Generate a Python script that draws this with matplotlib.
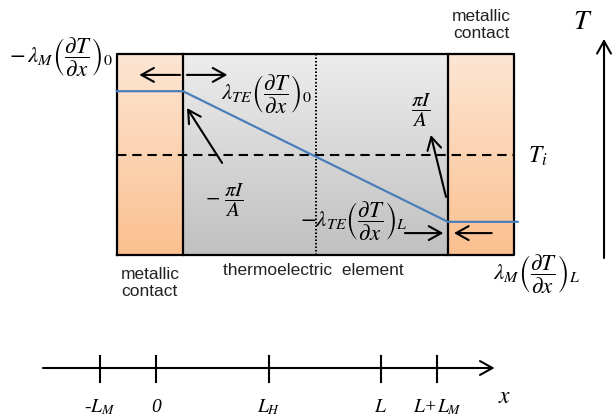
import numpy as np
import matplotlib.pyplot as plt
from matplotlib.colors import LinearSegmentedColormap

plt.rcParams['mathtext.fontset'] = 'stix'
plt.rcParams['font.family'] = ['Liberation Sans', 'DejaVu Sans']

# geometry of the element, in units of L/4
L_M = 1.0
L = 4.0
L_H = 2.0
edges = [-L_M, 0.0, L, L + L_M]

# temperature levels (box spans 0..1)
T_bottom, T_top = 0.0, 1.0
T_i = 0.5
T_hot = 0.815
T_cold = 0.165
profile_x = [-L_M, 0.0, L, L + L_M + 0.05]
profile_T = [T_hot, T_hot, T_cold, T_cold]

# lower x axis
tick_pos = [-L_M, 0.0, L_H, L, L + L_M]
tick_labels = ['-$L_M$', '0', '$L_H$', '$L$', '$L$+$L_M$']

orange = ['#FBC08F', '#FDE6D4']   # bottom, top
grey = ['#C0C0C0', '#EDEDED']
blue = '#4A7EBB'


def gradient(ax, x0, x1, colors):
    cmap = LinearSegmentedColormap.from_list('g', colors)
    grad = np.linspace(0, 1, 256).reshape(-1, 1)
    ax.imshow(grad, extent=(x0, x1, T_bottom, T_top), origin='lower',
              cmap=cmap, aspect='auto', zorder=0, interpolation='bilinear')


def arrow(ax, tail, head, lw=1.5):
    ax.annotate('', xy=head, xytext=tail,
                arrowprops=dict(arrowstyle='->,head_length=0.45,head_width=0.25',
                                lw=lw, color='k', shrinkA=0, shrinkB=0,
                                mutation_scale=20))


fig = plt.figure(figsize=(6.14, 4.2), dpi=100)

# upper diagram
ax = fig.add_axes([0, 0, 1, 1])
gradient(ax, edges[0], edges[1], orange)
gradient(ax, edges[1], edges[2], grey)
gradient(ax, edges[2], edges[3], orange)
ax.set_xlim(-183 / 66.25, 431 / 66.25)
ax.set_ylim(-165 / 201, 255 / 201)
ax.axis('off')

# box outline and walls
ax.plot([edges[0], edges[3], edges[3], edges[0], edges[0]],
        [T_bottom, T_bottom, T_top, T_top, T_bottom], color='k', lw=1.6, zorder=3)
for e in edges[1:3]:
    ax.plot([e, e], [T_bottom, T_top], color='k', lw=1.6, zorder=3)

ax.plot([edges[0], edges[3]], [T_i, T_i], color='k', lw=1.5, dashes=(4.5, 2.8), zorder=2)
ax.plot([L_H, L_H], [T_bottom, T_top], color='k', lw=1.4, ls=(0, (0.8, 1.0)), zorder=2)
ax.plot(profile_x, profile_T, color=blue, lw=1.6, zorder=4)

# heat flux arrows
arrow(ax, (-0.045, 0.896), (-0.66, 0.896))
arrow(ax, (0.06, 0.896), (0.67, 0.896))
arrow(ax, (3.35, 0.109), (3.93, 0.109))
arrow(ax, (4.66, 0.109), (4.09, 0.109))
# Peltier arrows
arrow(ax, (0.59, 0.458), (0.06, 0.731))
arrow(ax, (3.97, 0.289), (3.74, 0.597))
# T axis
arrow(ax, (6.355, -0.015), (6.355, 1.075))

fs = 16.5
ax.text(-1.05, 0.985, r'$-\,\lambda_M\left(\dfrac{\partial T}{\partial x}\right)_0$',
        fontsize=fs, ha='right', va='center')
ax.text(0.58, 0.80, r'$\lambda_{TE}\left(\dfrac{\partial T}{\partial x}\right)_0$',
        fontsize=fs, ha='left', va='center')
ax.text(0.63, 0.27, r'$-\ \dfrac{\pi I}{A}$', fontsize=15, ha='center', va='center')
ax.text(3.59, 0.72, r'$\dfrac{\pi I}{A}$', fontsize=15, ha='center', va='center')
ax.text(5.2, 0.49, r'$T_i$', fontsize=17, ha='left', va='center')
ax.text(3.40, 0.165, r'$-\lambda_{TE}\left(\dfrac{\partial T}{\partial x}\right)_L$',
        fontsize=fs, ha='right', va='center')
ax.text(5.33, -0.095, r'$\lambda_M\left(\dfrac{\partial T}{\partial x}\right)_L$',
        fontsize=fs, ha='center', va='center')
ax.text(6.04, 1.16, r'$T$', fontsize=20, ha='center', va='center')

ax.text(-0.5, -0.14, 'metallic\ncontact', fontsize=12.5, ha='center', va='center',
        linespacing=1.15, color='#222222')
ax.text(1.96, -0.075, 'thermoelectric  element', fontsize=12.5, ha='center', va='center',
        color='#222222')
ax.text(4.5, 1.145, 'metallic\ncontact', fontsize=12.5, ha='center', va='center',
        linespacing=1.15, color='#222222')

# lower x axis
ax2 = fig.add_axes([0, 0, 1, 1], facecolor='none')
ax2.set_xlim(-156 / 56.25, 458 / 56.25)
ax2.set_ylim(-52, 368)
ax2.axis('off')
arrow(ax2, (-2.01, 0), (6.02, 0))
for p, lab in zip(tick_pos, tick_labels):
    ax2.plot([p, p], [-14, 12], color='k', lw=1.5)
    ax2.text(p, -39, lab, fontsize=14, ha='center', va='center',
             family='Liberation Serif', style='italic')
ax2.text(6.2, -29, r'$x$', fontsize=17, ha='center', va='center')

fig.savefig('out.png', dpi=100)
